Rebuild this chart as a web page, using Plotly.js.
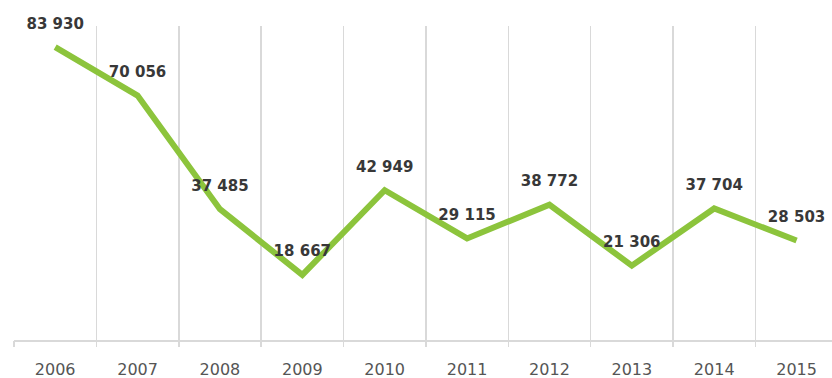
<!DOCTYPE html>
<html>
<head>
<meta charset="utf-8">
<script src="https://cdn.plot.ly/plotly-3.0.1.min.js"></script>
<style>html,body{margin:0;padding:0;background:#fff;}#chart{width:832px;height:378px;}</style>
</head>
<body>
<div id="chart"></div>
<script>
const years = ['2006','2007','2008','2009','2010','2011','2012','2013','2014','2015'];
const values = [83930, 70056, 37485, 18667, 42949, 29115, 38772, 21306, 37704, 28503];
const labels = ['83 930','70 056','37 485','18 667','42 949','29 115','38 772','21 306','37 704','28 503'];

const idx = years.map((_, i) => i);
const gridPos = years.map((_, i) => i - 0.5);

const trace = {
  x: idx,
  y: values,
  text: labels,
  mode: 'lines+markers+text',
  textposition: 'top center',
  cliponaxis: false,
  textfont: {family: '"DejaVu Sans", sans-serif', size: 15, color: '#383838', weight: 'bold'},
  line: {color: '#8cc43c', width: 6},
  marker: {size: 22, color: 'rgba(0,0,0,0)'},
  hoverinfo: 'skip',
  xaxis: 'x',
  yaxis: 'y'
};

const gridTrace = {
  x: gridPos, y: gridPos.map(() => null), xaxis: 'x2', yaxis: 'y',
  mode: 'lines', showlegend: false, hoverinfo: 'skip'
};

const xr = [-0.5, 9.43];
const layout = {
  width: 832, height: 378,
  margin: {l: 14, r: 0, t: 26, b: 38},
  paper_bgcolor: '#ffffff', plot_bgcolor: '#ffffff',
  showlegend: false,
  xaxis: {
    range: xr, tickvals: idx, ticktext: years,
    showgrid: false, zeroline: false,
    showline: true, linecolor: '#d9d9d9', linewidth: 2,
    ticks: 'outside', ticklen: 14, tickcolor: 'rgba(0,0,0,0)',
    tickfont: {family: '"DejaVu Sans", sans-serif', size: 16, color: '#555555'}
  },
  xaxis2: {
    range: xr, overlaying: 'x', tickvals: gridPos, showticklabels: false,
    showgrid: true, gridcolor: '#d9d9d9', gridwidth: 1.5,
    ticks: 'outside', ticklen: 6, tickcolor: '#d9d9d9', tickwidth: 1.5,
    zeroline: false, showline: false, side: 'bottom'
  },
  yaxis: {range: [0, 90000], visible: false, showgrid: false, zeroline: false}
};

Plotly.newPlot('chart', [gridTrace, trace], layout, {displayModeBar: false, staticPlot: true});
</script>
</body>
</html>
